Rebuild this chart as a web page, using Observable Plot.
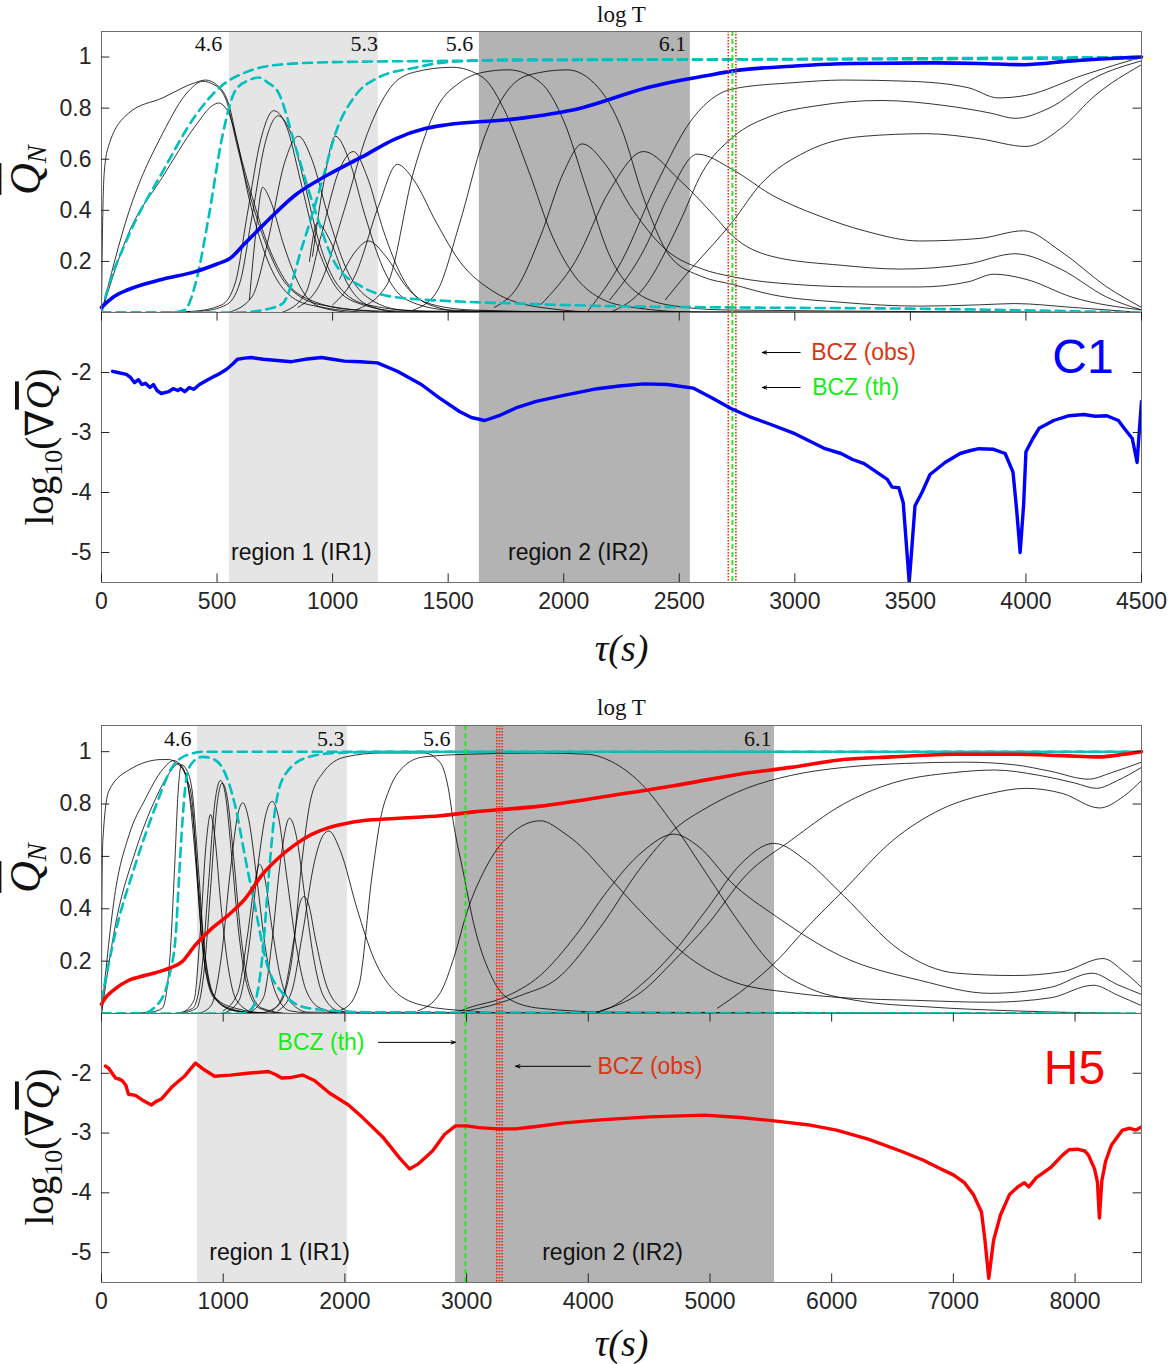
<!DOCTYPE html>
<html><head><meta charset="utf-8">
<script src="https://cdn.jsdelivr.net/npm/d3@7"></script>
<script src="https://cdn.jsdelivr.net/npm/@observablehq/plot@0.6"></script>
<style>
body{margin:0;background:#fff;}
#root{position:relative;width:1170px;height:1364px;overflow:hidden;}
#root svg{position:absolute;left:0;}
</style></head><body><div id="root"></div>
<script>
// ---------------- tick values & labels ----------------
const C1_X_TICKS = [0,500,1000,1500,2000,2500,3000,3500,4000,4500];
const H5_X_TICKS = [0,1000,2000,3000,4000,5000,6000,7000,8000];
const Q_TICKS = [0.2,0.4,0.6,0.8,1];
const G_TICKS = [-5,-4,-3,-2];
const LOGT_LABELS = ["4.6","5.3","5.6","6.1"];
const C1_LOGT_POS = [523,1196,1609,2530];
const H5_LOGT_POS = [740,1997,2868,5505];
const C1_REGIONS = [[554,1198],[1635,2548]];
const H5_REGIONS = [[789,2021],[2909,5530]];
const REGION_NAMES = ["region 1 (IR1)","region 2 (IR2)"];
const C1_REGION_LABEL_X = [865,2063];
const H5_REGION_LABEL_X = [1463,4199];
const C1_BCZ_OBS = [2712,2745];
const C1_BCZ_TH = [2730];
const H5_BCZ_OBS = [3248,3270,3292];
const H5_BCZ_TH = [2991];

// ---------------- C1: normalised Q_N curves (tau, Q) ----------------
const C1_BLACK = [
 [[0,0],[4,0.3],[12,0.55],[30,0.65],[117,0.78],[264,0.84],[406,0.9],[450,0.91],[500,0.89],[549,0.82],[592,0.65],[653,0.45],[722,0.26],[800,0.12],[900,0.05],[1100,0.01],[1500,0],[4500,0]],
 [[0,0],[117,0.39],[264,0.7],[380,0.87],[437,0.905],[490,0.89],[540,0.83],[585,0.66],[645,0.45],[715,0.26],[800,0.11],[950,0.03],[1300,0],[4500,0]],
 [[0,0],[117,0.31],[264,0.53],[406,0.73],[480,0.81],[506,0.82],[545,0.79],[590,0.66],[630,0.48],[700,0.25],[780,0.1],[900,0.03],[1200,0],[4500,0]],
 [[250,0],[400,0.005],[520,0.03],[580,0.12],[630,0.38],[690,0.68],[745,0.79],[800,0.73],[860,0.52],[920,0.3],[1000,0.12],[1100,0.04],[1300,0.005],[4500,0]],
 [[280,0],[430,0.005],[540,0.03],[600,0.12],[650,0.37],[710,0.67],[765,0.77],[820,0.7],[880,0.5],[940,0.28],[1020,0.11],[1150,0.03],[1400,0.005],[4500,0]],
 [[640,0.05],[670,0.33],[697,0.49],[730,0.44],[790,0.26],[860,0.1],[950,0.02],[1100,0],[4500,0]],
 [[550,0],[650,0.06],[720,0.28],[790,0.58],[852,0.69],[910,0.6],[980,0.38],[1060,0.17],[1150,0.06],[1300,0.01],[1600,0],[4500,0]],
 [[913,0.22],[960,0.5],[1012,0.69],[1070,0.6],[1140,0.38],[1220,0.17],[1320,0.05],[1500,0.01],[2000,0],[4500,0]],
 [[780,0],[880,0.07],[950,0.3],[1030,0.56],[1090,0.63],[1150,0.53],[1220,0.32],[1300,0.14],[1400,0.04],[1600,0.01],[2200,0],[4500,0]],
 [[900,0.2],[934,0.35],[990,0.28],[1060,0.12],[1150,0.03],[1300,0],[4500,0]],
 [[1030,0.13],[1100,0.24],[1155,0.28],[1230,0.22],[1320,0.1],[1420,0.03],[1600,0],[4500,0]],
 [[1000,0.03],[1100,0.15],[1200,0.42],[1280,0.58],[1350,0.52],[1450,0.35],[1550,0.2],[1700,0.08],[1900,0.02],[2200,0],[4500,0]],
 [[850,0.02],[950,0.12],[1050,0.4],[1150,0.7],[1250,0.88],[1350,0.94],[1518,0.96],[1650,0.92],[1750,0.78],[1850,0.55],[1950,0.3],[2050,0.14],[2150,0.06],[2300,0.02],[2600,0],[4500,0]],
 [[1100,0.01],[1236,0.11],[1350,0.55],[1450,0.8],[1550,0.9],[1650,0.94],[1760,0.95],[1900,0.9],[2000,0.75],[2100,0.48],[2200,0.22],[2300,0.09],[2450,0.03],[2700,0.01],[4500,0]],
 [[1350,0.01],[1450,0.08],[1550,0.35],[1650,0.67],[1750,0.86],[1850,0.93],[2015,0.95],[2150,0.88],[2250,0.72],[2345,0.45],[2460,0.22],[2600,0.14],[2730,0.11],[2900,0.07],[3200,0.04],[3540,0.025],[3800,0.03],[3950,0.035],[4200,0.02],[4500,0]],
 [[1700,0.02],[1800,0.1],[1900,0.3],[2000,0.55],[2080,0.66],[2180,0.58],[2300,0.4],[2450,0.24],[2600,0.17],[2730,0.14],[3000,0.11],[3300,0.1],[3540,0.1],[3750,0.12],[3862,0.15],[4000,0.13],[4200,0.06],[4500,0.01]],
 [[1900,0.03],[2050,0.2],[2200,0.48],[2345,0.63],[2500,0.52],[2650,0.38],[2730,0.3],[2900,0.22],[3200,0.185],[3455,0.17],[3750,0.19],[3953,0.23],[4150,0.17],[4350,0.06],[4500,0.01]],
 [[2200,0.05],[2350,0.25],[2450,0.45],[2578,0.62],[2730,0.56],[2900,0.46],[3100,0.38],[3300,0.32],[3540,0.28],[3800,0.29],[3990,0.32],[4150,0.24],[4350,0.1],[4500,0.02]],
 [[2100,0],[2250,0.2],[2400,0.5],[2550,0.75],[2730,0.875],[3000,0.9],[3210,0.91],[3500,0.905],[3750,0.88],[3880,0.84],[4000,0.85],[4250,0.93],[4500,1.0]],
 [[2200,0],[2350,0.1],[2500,0.35],[2600,0.55],[2730,0.685],[2900,0.77],[3100,0.81],[3373,0.83],[3650,0.81],[3850,0.78],[3953,0.76],[4100,0.8],[4300,0.92],[4500,0.985]],
 [[2440,0.05],[2550,0.17],[2650,0.27],[2730,0.355],[2850,0.5],[3050,0.63],[3300,0.69],[3570,0.7],[3800,0.68],[4000,0.65],[4150,0.72],[4300,0.85],[4500,0.97]]
];
const C1_CYAN = [
 [[0,0],[17,0.06],[117,0.3],[264,0.55],[406,0.77],[523,0.89],[623,0.94],[766,0.97],[1000,0.98],[1500,0.985],[2500,0.99],[3500,0.995],[4500,1.0]],
 [[0,0],[300,0],[360,0.01],[406,0.11],[463,0.37],[523,0.69],[580,0.87],[640,0.91],[680,0.92],[720,0.9],[766,0.86],[839,0.65],[913,0.43],[1012,0.19],[1129,0.1],[1272,0.06],[1500,0.045],[1800,0.035],[2200,0.025],[2700,0.02],[3500,0.015],[4500,0]],
 [[0,0],[600,0],[700,0.01],[783,0.035],[869,0.26],[956,0.52],[1012,0.7],[1099,0.85],[1198,0.92],[1350,0.957],[1496,0.98],[1800,0.99],[2500,0.99],[4500,0.995]]
];
const C1_MEAN = [[0,0.02],[50,0.06],[117,0.09],[264,0.13],[406,0.16],[500,0.19],[554,0.21],[620,0.27],[697,0.34],[839,0.46],[982,0.54],[1129,0.61],[1272,0.68],[1400,0.72],[1496,0.735],[1782,0.757],[2072,0.8],[2360,0.88],[2634,0.93],[2730,0.945],[3000,0.965],[3250,0.975],[3600,0.977],[3800,0.975],[3990,0.97],[4200,0.985],[4500,1.0]];
const C1_GRAD = [[48,-1.98],[70,-2.0],[108,-2.03],[125,-2.08],[143,-2.17],[160,-2.12],[175,-2.2],[190,-2.18],[210,-2.25],[225,-2.2],[240,-2.3],[259,-2.35],[290,-2.32],[310,-2.27],[330,-2.3],[342,-2.27],[360,-2.32],[380,-2.25],[400,-2.28],[424,-2.2],[460,-2.12],[490,-2.06],[506,-2.03],[540,-1.95],[570,-1.85],[588,-1.78],[620,-1.76],[648,-1.75],[700,-1.78],[760,-1.8],[822,-1.82],[880,-1.78],[952,-1.75],[1000,-1.78],[1051,-1.81],[1120,-1.82],[1194,-1.84],[1280,-1.98],[1384,-2.2],[1460,-2.42],[1549,-2.65],[1600,-2.75],[1658,-2.8],[1720,-2.72],[1800,-2.58],[1881,-2.48],[2000,-2.38],[2145,-2.27],[2250,-2.22],[2348,-2.19],[2450,-2.2],[2560,-2.26],[2640,-2.42],[2724,-2.6],[2800,-2.73],[2885,-2.85],[3000,-3.02],[3131,-3.27],[3200,-3.35],[3250,-3.45],[3300,-3.52],[3343,-3.63],[3400,-3.78],[3421,-3.91],[3450,-3.92],[3469,-4.17],[3495,-5.5],[3520,-4.22],[3550,-4.0],[3585,-3.7],[3650,-3.5],[3715,-3.35],[3760,-3.3],[3797,-3.27],[3860,-3.28],[3910,-3.35],[3944,-3.66],[3960,-4.3],[3975,-5.0],[3990,-4.2],[4000,-3.32],[4030,-3.1],[4057,-2.93],[4120,-2.8],[4187,-2.72],[4250,-2.7],[4300,-2.73],[4350,-2.72],[4400,-2.8],[4425,-2.93],[4460,-3.1],[4481,-3.5],[4490,-3.0],[4500,-2.48]];

// ---------------- H5 ----------------
const H5_BLACK = [
 [[0,0],[3,0.4],[11,0.66],[60,0.85],[225,0.93],[499,0.97],[553,0.97],[620,0.955],[690,0.915],[730,0.82],[758,0.72],[800,0.47],[855,0.21],[937,0.06],[1100,0.02],[1400,0],[8546,0]],
 [[0,0],[115,0.47],[225,0.68],[361,0.82],[499,0.93],[594,0.966],[660,0.94],[717,0.85],[772,0.59],[827,0.27],[909,0.08],[1050,0.02],[1300,0],[8546,0]],
 [[0,0],[115,0.34],[279,0.62],[444,0.82],[560,0.92],[635,0.955],[700,0.9],[745,0.81],[786,0.53],[841,0.21],[923,0.06],[1100,0.01],[1400,0],[8546,0]],
 [[200,0],[400,0.005],[499,0.02],[560,0.2],[600,0.55],[630,0.85],[657,0.95],[700,0.93],[745,0.85],[800,0.53],[850,0.22],[930,0.06],[1100,0.01],[1400,0],[8546,0]],
 [[600,0],[750,0.02],[820,0.15],[880,0.5],[930,0.8],[978,0.89],[1020,0.83],[1070,0.6],[1130,0.3],[1200,0.1],[1300,0.02],[1500,0],[8546,0]],
 [[650,0],[780,0.02],[840,0.15],[900,0.5],[945,0.78],[992,0.88],[1035,0.82],[1085,0.6],[1145,0.3],[1215,0.1],[1320,0.02],[1550,0],[8546,0]],
 [[650,0],[760,0.05],[810,0.3],[860,0.65],[896,0.76],[930,0.68],[980,0.42],[1040,0.18],[1110,0.05],[1250,0.005],[1500,0],[8546,0]],
 [[800,0],[900,0.03],[980,0.2],[1060,0.55],[1120,0.76],[1161,0.805],[1210,0.74],[1280,0.5],[1350,0.24],[1430,0.08],[1550,0.01],[1800,0],[8546,0]],
 [[1000,0],[1130,0.05],[1210,0.25],[1290,0.58],[1350,0.76],[1402,0.81],[1450,0.76],[1520,0.53],[1600,0.26],[1680,0.09],[1800,0.02],[2000,0],[8546,0]],
 [[1200,0],[1330,0.06],[1400,0.27],[1470,0.58],[1545,0.746],[1600,0.68],[1670,0.45],[1740,0.22],[1820,0.07],[1950,0.01],[2200,0],[8546,0]],
 [[1000,0.01],[1120,0.08],[1200,0.3],[1260,0.5],[1298,0.57],[1340,0.52],[1400,0.33],[1470,0.14],[1560,0.04],[1700,0.005],[8546,0]],
 [[1400,0.01],[1500,0.08],[1580,0.28],[1630,0.42],[1663,0.447],[1700,0.42],[1760,0.28],[1840,0.12],[1950,0.03],[2100,0],[8546,0]],
 [[1450,0.01],[1560,0.08],[1650,0.3],[1750,0.58],[1820,0.68],[1868,0.697],[1964,0.62],[2100,0.4],[2238,0.21],[2400,0.09],[2648,0.03],[3000,0.01],[3500,0],[8546,0]],
 [[1300,0],[1450,0.03],[1520,0.1],[1566,0.21],[1649,0.59],[1720,0.82],[1813,0.915],[2005,0.98],[2300,0.995],[2650,0.995],[2780,0.96],[2850,0.86],[2895,0.72],[2977,0.53],[3060,0.34],[3196,0.15],[3333,0.06],[3600,0.02],[4200,0.005],[8546,0]],
 [[1850,0],[2000,0.02],[2115,0.107],[2224,0.53],[2300,0.76],[2360,0.85],[2500,0.95],[2650,0.98],[3000,0.99],[3600,0.995],[4000,0.99],[4155,0.97],[4430,0.88],[4703,0.72],[4977,0.53],[5251,0.34],[5525,0.18],[5800,0.1],[6200,0.05],[6800,0.025],[7500,0.01],[8546,0]],
 [[2600,0.01],[2785,0.08],[2900,0.22],[3005,0.39],[3150,0.55],[3350,0.68],[3607,0.736],[3800,0.69],[3936,0.64],[4155,0.53],[4430,0.39],[4840,0.21],[5200,0.12],[5662,0.08],[6100,0.06],[6700,0.05],[7300,0.043],[7800,0.06],[8150,0.108],[8350,0.07],[8546,0.03]],
 [[2900,0],[3005,0.02],[3300,0.06],[3607,0.146],[3900,0.3],[4155,0.467],[4450,0.62],[4703,0.685],[4900,0.64],[5177,0.5],[5546,0.37],[6097,0.215],[6722,0.127],[7300,0.077],[7800,0.1],[8140,0.154],[8350,0.11],[8546,0.073]],
 [[4000,0],[4155,0.017],[4430,0.108],[4703,0.235],[4977,0.4],[5251,0.57],[5525,0.65],[5800,0.58],[6097,0.45],[6566,0.24],[7026,0.154],[7500,0.145],[7900,0.16],[8230,0.21],[8400,0.16],[8546,0.1]],
 [[3000,0.01],[3196,0.03],[3450,0.07],[3744,0.133],[4100,0.33],[4430,0.556],[4700,0.7],[4977,0.787],[5300,0.86],[5662,0.909],[6100,0.94],[6600,0.955],[7100,0.96],[7500,0.95],[7800,0.925],[8110,0.895],[8300,0.92],[8546,0.96]],
 [[4100,0.01],[4430,0.08],[4700,0.2],[4977,0.338],[5300,0.53],[5662,0.66],[6097,0.8],[6500,0.88],[7000,0.92],[7338,0.93],[7700,0.91],[8000,0.88],[8176,0.86],[8350,0.89],[8546,0.94]],
 [[5060,0.02],[5300,0.1],[5546,0.2],[5800,0.33],[6097,0.47],[6500,0.66],[6900,0.78],[7300,0.84],[7600,0.86],[7900,0.84],[8200,0.785],[8400,0.83],[8546,0.89]]
];
const H5_CYAN = [
 [[0,0.05],[115,0.31],[279,0.57],[444,0.79],[580,0.94],[690,0.985],[850,1.0],[8546,1.0]],
 [[0,0],[330,0],[471,0.04],[560,0.15],[610,0.3],[635,0.5],[663,0.72],[704,0.915],[760,0.965],[830,0.98],[900,0.975],[991,0.94],[1100,0.79],[1183,0.59],[1265,0.4],[1347,0.21],[1484,0.08],[1703,0.02],[2200,0.005],[8546,0]],
 [[0,0],[1150,0],[1238,0.02],[1320,0.21],[1375,0.53],[1430,0.79],[1512,0.915],[1703,0.98],[1923,0.995],[2500,1.0],[8546,1.0]]
];
const H5_MEAN = [[0,0.035],[11,0.045],[115,0.095],[225,0.127],[361,0.146],[553,0.172],[663,0.198],[772,0.262],[909,0.326],[1045,0.377],[1183,0.44],[1320,0.53],[1457,0.595],[1594,0.646],[1731,0.685],[1868,0.71],[2000,0.725],[2142,0.736],[2416,0.745],[2785,0.755],[3060,0.77],[3607,0.792],[4155,0.83],[4703,0.87],[5251,0.915],[5662,0.94],[6097,0.97],[6500,0.98],[7026,0.99],[7500,0.99],[7900,0.985],[8200,0.98],[8400,0.99],[8546,1.0]];
const H5_GRAD = [[33,-1.88],[60,-1.92],[115,-2.08],[150,-2.1],[173,-2.13],[200,-2.2],[222,-2.35],[280,-2.37],[337,-2.45],[411,-2.53],[450,-2.47],[493,-2.43],[540,-2.32],[583,-2.22],[640,-2.12],[682,-2.05],[730,-1.93],[772,-1.83],[850,-1.95],[929,-2.05],[1060,-2.03],[1200,-2.0],[1372,-1.97],[1430,-2.02],[1479,-2.08],[1560,-2.07],[1652,-2.03],[1750,-2.12],[1873,-2.33],[2030,-2.53],[2150,-2.75],[2317,-3.08],[2450,-3.42],[2531,-3.6],[2600,-3.52],[2720,-3.3],[2820,-3.02],[2909,-2.88],[3000,-2.88],[3100,-2.91],[3254,-2.93],[3400,-2.93],[3574,-2.89],[3800,-2.83],[4100,-2.78],[4500,-2.73],[4955,-2.7],[5250,-2.74],[5546,-2.8],[5800,-2.86],[6040,-2.95],[6300,-3.1],[6566,-3.3],[6750,-3.45],[6877,-3.58],[7000,-3.7],[7091,-3.83],[7165,-4.03],[7231,-4.32],[7260,-4.8],[7291,-5.43],[7330,-4.8],[7387,-4.37],[7461,-4.03],[7530,-3.9],[7584,-3.83],[7620,-3.9],[7680,-3.75],[7798,-3.58],[7897,-3.37],[7950,-3.28],[8020,-3.27],[8080,-3.3],[8110,-3.37],[8160,-3.6],[8184,-3.82],[8200,-4.42],[8220,-3.8],[8250,-3.48],[8299,-3.2],[8390,-2.95],[8450,-2.92],[8500,-2.95],[8546,-2.9]];

// ---------------- annotations (data coordinates) ----------------
const C1_ARROWS = [{x1:3023,x2:2859,y:-1.667},{x1:3023,x2:2859,y:-2.25}];
const C1_BCZ_TEXT = [{x:3071,y:-1.667,t:"BCZ (obs)",c:"#dd3311",a:"start"},{x:3075,y:-2.25,t:"BCZ (th)",c:"#11ee11",a:"start"}];
const C1_NAME = {x:4247,y:-1.75,t:"C1",c:"#0000ff"};
const H5_ARROWS = [{x1:2276,x2:2909,y:-1.483},{x1:4018,x2:3402,y:-1.883}];
const H5_BCZ_TEXT = [{x:2161,y:-1.483,t:"BCZ (th)",c:"#11ee11",a:"end"},{x:4076,y:-1.883,t:"BCZ (obs)",c:"#dd3311",a:"start"}];
const H5_NAME = {x:7995,y:-1.93,t:"H5",c:"#ff0000"};

// ---------------- helpers ----------------
const SANS = "Liberation Sans, Arial, Helvetica, sans-serif";
const SERIF = "Liberation Serif, DejaVu Serif, Times New Roman, serif";
const CYAN = "#00bfbf", GREY1 = "#e5e5e5", GREY2 = "#b3b3b3", OBS = "#dd3311", TH = "#11ee11";
const rows = curves => curves.flatMap((c, i) => c.map(([x, y]) => ({x, y, z: i})));
const pts = arr => arr.map(([x, y]) => ({x, y}));

function regionMarks(regions, y0, y1) {
  return regions.map((r, i) => Plot.rect([r], {x1: d => d[0], x2: d => d[1], y1: y0, y2: y1, fill: i === 0 ? GREY1 : GREY2}));
}
function bczMarks(obs, th) {
  return [
    Plot.ruleX(obs, {stroke: OBS, strokeWidth: 1.6, strokeDasharray: "1.5,1.5"}),
    Plot.ruleX(th, {stroke: TH, strokeWidth: 1.8, strokeDasharray: "5,3"})
  ];
}
function tickMarks(xDomain, yDomain, yTicks, xTicks) {
  const dx = (xDomain[1] - xDomain[0]) * 0.008;
  const dy = (yDomain[1] - yDomain[0]) * 0.032;
  const m = [
    Plot.ruleY(yTicks, {x1: xDomain[0], x2: xDomain[0] + dx, stroke: "#262626"}),
    Plot.ruleY(yTicks, {x1: xDomain[1] - dx, x2: xDomain[1], stroke: "#262626"}),
    Plot.axisY(yTicks, {anchor: "left", tickSize: 0, tickPadding: 10, label: null, fontSize: 23, fill: "#262626", tickFormat: d => String(d)})
  ];
  if (xTicks) {
    m.push(
      Plot.ruleX(xTicks, {y1: yDomain[0], y2: yDomain[0] + dy, stroke: "#262626"}),
      Plot.ruleX(xTicks, {y1: yDomain[1] - dy, y2: yDomain[1], stroke: "#262626"}),
      Plot.axisX(xTicks, {anchor: "bottom", tickSize: 0, tickPadding: 10, label: null, fontSize: 23, fill: "#262626", tickFormat: d => String(d)})
    );
  }
  return m;
}

function topPlot(cfg) {
  const xDomain = cfg.xDomain, yDomain = [0, 1.1];
  return Plot.plot({
    width: 1170, height: cfg.height, marginTop: cfg.marginTop, marginBottom: 0, marginLeft: 101, marginRight: 29,
    x: {domain: xDomain, axis: null}, y: {domain: yDomain, axis: null},
    style: {fontFamily: SANS, fontSize: "20px", background: "transparent", overflow: "visible"},
    marks: [
      ...regionMarks(cfg.regions, yDomain[0], yDomain[1]),
      Plot.line(rows(cfg.black), {x: "x", y: "y", z: "z", stroke: "black", strokeWidth: 0.8, curve: "monotone-x", clip: true}),
      Plot.line(rows(cfg.cyan), {x: "x", y: "y", z: "z", stroke: CYAN, strokeWidth: 2.6, strokeDasharray: "9,6", curve: "monotone-x", clip: true}),
      Plot.line(pts(cfg.mean), {x: "x", y: "y", stroke: cfg.color, strokeWidth: 3.6, curve: "monotone-x"}),
      ...bczMarks(cfg.obs, cfg.th),
      Plot.text(LOGT_LABELS, {x: (d, i) => cfg.logTPos[i], y: 1.05, text: d => d, textAnchor: "end", fontFamily: SERIF, fontSize: 22, fill: "#111"}),
      Plot.text(["log T"], {frameAnchor: "top", lineAnchor: "middle", dy: cfg.logTdy, text: d => d, fontFamily: SERIF, fontSize: 23, fill: "#111"}),
      Plot.frame({stroke: "#6e6e6e"}),
      ...tickMarks(xDomain, yDomain, Q_TICKS, null)
    ]
  });
}

function bottomPlot(cfg) {
  const xDomain = cfg.xDomain, yDomain = [-5.5, -1];
  const startText = cfg.bczText.filter(d => d.a === "start");
  const endText = cfg.bczText.filter(d => d.a === "end");
  return Plot.plot({
    width: 1170, height: cfg.height, marginTop: 0, marginBottom: cfg.marginBottom, marginLeft: 101, marginRight: 29,
    x: {domain: xDomain, axis: null}, y: {domain: yDomain, axis: null},
    style: {fontFamily: SANS, fontSize: "20px", background: "transparent", overflow: "visible"},
    marks: [
      ...regionMarks(cfg.regions, yDomain[0], yDomain[1]),
      Plot.text(REGION_NAMES, {x: (d, i) => cfg.regionLabelX[i], y: -5.0, text: d => d, fontFamily: SANS, fontSize: 23, fill: "#111"}),
      ...bczMarks(cfg.obs, cfg.th),
      Plot.line(pts(cfg.grad), {x: "x", y: "y", stroke: cfg.color, strokeWidth: 3.4, curve: "linear", clip: true}),
      Plot.arrow(cfg.arrows, {x1: "x1", x2: "x2", y1: "y", y2: "y", stroke: "black", strokeWidth: 1, headLength: 7, headAngle: 40}),
      Plot.text(startText, {x: "x", y: "y", text: "t", fill: d => d.c, textAnchor: "start", fontFamily: SANS, fontSize: 23}),
      Plot.text(endText, {x: "x", y: "y", text: "t", fill: d => d.c, textAnchor: "end", fontFamily: SANS, fontSize: 23}),
      Plot.text([cfg.name], {x: "x", y: "y", text: "t", fill: cfg.color, fontFamily: SANS, fontSize: 48}),
      Plot.text(["τ(s)"], {frameAnchor: "bottom", lineAnchor: "middle", dy: cfg.tauDy, text: d => d, fontFamily: SERIF, fontStyle: "italic", fontSize: 38, fill: "#111"}),
      Plot.frame({stroke: "#6e6e6e"}),
      ...tickMarks(xDomain, yDomain, G_TICKS, cfg.xTicks)
    ]
  });
}

function addQLabel(svg, x, y) {
  const t = d3.select(svg).append("text")
    .attr("transform", `translate(${x},${y}) rotate(-90)`)
    .attr("text-anchor", "middle").attr("font-family", SERIF).attr("fill", "#111");
  t.append("tspan").attr("font-style", "italic").attr("font-size", 44).style("text-decoration", "overline").text("Q");
  t.append("tspan").attr("font-style", "italic").attr("font-size", 27).attr("dy", 6).text("N");
}
function addGradLabel(svg, x, y) {
  const t = d3.select(svg).append("text")
    .attr("transform", `translate(${x},${y}) rotate(-90)`)
    .attr("text-anchor", "middle").attr("font-family", SERIF).attr("fill", "#111").attr("font-size", 39);
  t.append("tspan").text("log");
  t.append("tspan").attr("font-size", 26).attr("dy", 9).text("10");
  t.append("tspan").attr("dy", -9).text("(∇");
  t.append("tspan").attr("font-style", "italic").style("text-decoration", "overline").text("Q");
  t.append("tspan").text(")");
}

const root = document.getElementById("root");
function place(svg, top) { svg.style.top = top + "px"; root.appendChild(svg); return svg; }

// C1 panel
const c1Top = place(topPlot({xDomain: [0, 4500], height: 312, marginTop: 31, regions: C1_REGIONS, black: C1_BLACK, cyan: C1_CYAN, mean: C1_MEAN, color: "#0000ff", obs: C1_BCZ_OBS, th: C1_BCZ_TH, logTPos: C1_LOGT_POS, logTdy: -17}), 0);
const c1Bot = place(bottomPlot({xDomain: [0, 4500], height: 358, marginBottom: 88, regions: C1_REGIONS, regionLabelX: C1_REGION_LABEL_X, obs: C1_BCZ_OBS, th: C1_BCZ_TH, grad: C1_GRAD, color: "#0000ff", arrows: C1_ARROWS, bczText: C1_BCZ_TEXT, name: C1_NAME, xTicks: C1_X_TICKS, tauDy: 66}), 312);
// H5 panel
const h5Top = place(topPlot({xDomain: [0, 8546], height: 343, marginTop: 55, regions: H5_REGIONS, black: H5_BLACK, cyan: H5_CYAN, mean: H5_MEAN, color: "#ff0000", obs: H5_BCZ_OBS, th: H5_BCZ_TH, logTPos: H5_LOGT_POS, logTdy: -18}), 670);
const h5Bot = place(bottomPlot({xDomain: [0, 8546], height: 351, marginBottom: 82, regions: H5_REGIONS, regionLabelX: H5_REGION_LABEL_X, obs: H5_BCZ_OBS, th: H5_BCZ_TH, grad: H5_GRAD, color: "#ff0000", arrows: H5_ARROWS, bczText: H5_BCZ_TEXT, name: H5_NAME, xTicks: H5_X_TICKS, tauDy: 61}), 1013);

addQLabel(c1Top, 40, 170);
addQLabel(h5Top, 40, 198);
addGradLabel(c1Bot, 53, 135);
addGradLabel(h5Bot, 53, 134);
</script></body></html>
